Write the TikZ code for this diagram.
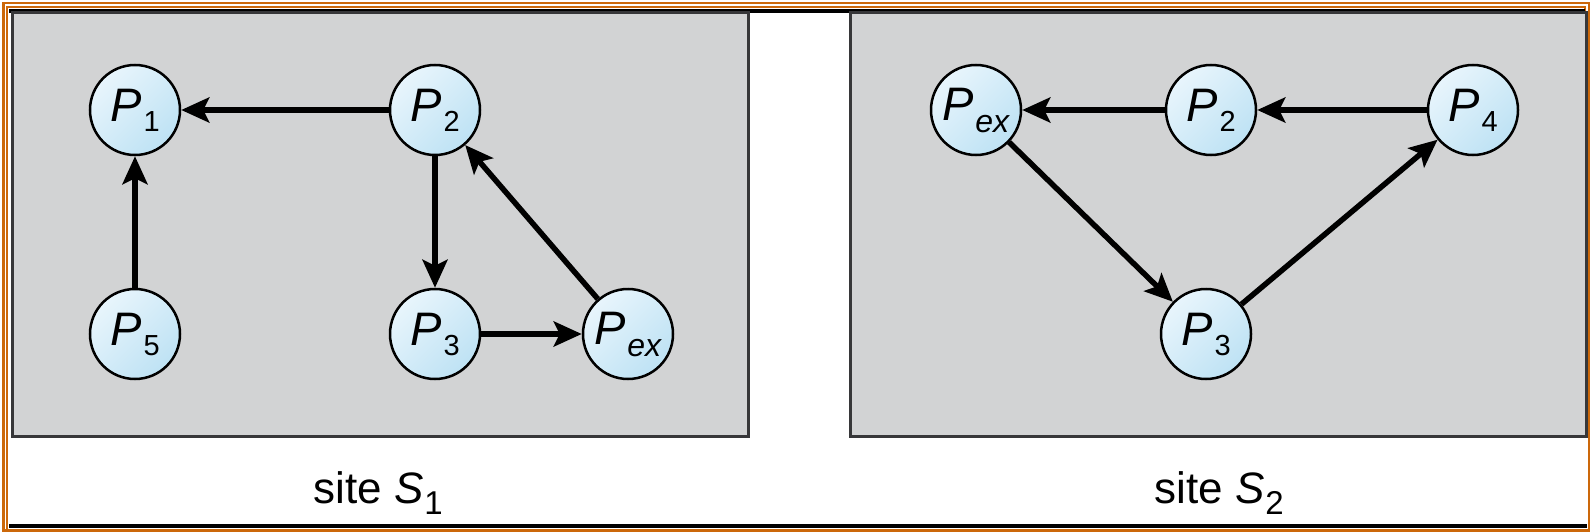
\documentclass[tikz,border=0pt]{standalone}
\usepackage{fontspec}
\setmainfont{Liberation Sans}
\usetikzlibrary{arrows.meta, positioning, calc}

\definecolor{framebrown}{RGB}{204,104,10}
\definecolor{sitegray}{RGB}{210,211,212}
\definecolor{siteedge}{RGB}{55,55,57}
\definecolor{proclight}{RGB}{232,245,252}
\definecolor{procdark}{RGB}{190,226,244}

% process label: italic P with a lowered index
\newcommand{\pname}[1]{\textit{P}\kern2pt\raisebox{-10pt}{\fontsize{29}{29}\selectfont #1}}
\newcommand{\pex}{\textit{P}\kern1pt\raisebox{-12pt}{\fontsize{32}{32}\selectfont\itshape ex}}
\newcommand{\sname}[1]{site \textit{S}\kern1pt\raisebox{-11pt}{\fontsize{33}{33}\selectfont #1}}

\tikzset{
  proc/.style={circle, draw=black, line width=2.5pt, inner sep=0pt, minimum size=90pt,
    left color=proclight, right color=procdark, shading angle=45,
    font=\fontsize{47}{49}\selectfont},
  sitebox/.style={fill=sitegray, draw=siteedge, line width=3pt},
  edge/.style={line width=5.5pt, -{Stealth[length=28pt, width=25pt, inset=6pt]}},
  sitelabel/.style={anchor=base, font=\fontsize{44}{46}\selectfont}
}

\begin{document}
\begin{tikzpicture}[x=1pt, y=-1pt]
    \useasboundingbox (0,0) rectangle (1593,532);
    \fill[white] (0,0) rectangle (1593,532);

    % Frame
    \draw[framebrown, line width=2.5pt] (3.5,3) rectangle (1589,530.5);
    \draw[framebrown, line width=2pt] (7,532) -- (7,7) -- (1585,7) -- (1585,13);
    \draw[black, line width=4.5pt] (9,11) -- (1585,11);
    \draw[black, line width=4.5pt] (9,526) -- (1587,526);

    % Sites
    \draw[sitebox] (12,13) rectangle (748,436);
    \draw[sitebox] (850,13) rectangle (1586,436);

    % Site S1
    \node[proc] (p1) at (135,110) {\pname{1}};
    \node[proc] (p2) at (435,110) {\pname{2}};
    \node[proc] (p5) at (135,334) {\pname{5}};
    \node[proc] (p3) at (435,334) {\pname{3}};
    \node[proc] (pex) at (628,334) {\pex};

    \draw[edge] (p2) -- (p1);
    \draw[edge] (p5) -- (p1);
    \draw[edge] (p2) -- (p3);
    \draw[edge] (p3) -- (pex);
    \draw[edge] (pex) -- (p2);

    % Site S2
    \node[proc] (qex) at (976,110) {\pex};
    \node[proc] (q2) at (1211,110) {\pname{2}};
    \node[proc] (q4) at (1473,110) {\pname{4}};
    \node[proc] (q3) at (1206,334) {\pname{3}};

    \draw[edge] (q2) -- (qex);
    \draw[edge] (q4) -- (q2);
    \draw[edge] (qex) -- (q3);
    \draw[edge] (q3) -- (q4);

    % Labels
    \node[sitelabel] (s1) at (378,503) {\sname{1}};
    \node[sitelabel] (s2) at (1219,503) {\sname{2}};
\end{tikzpicture}
\end{document}
